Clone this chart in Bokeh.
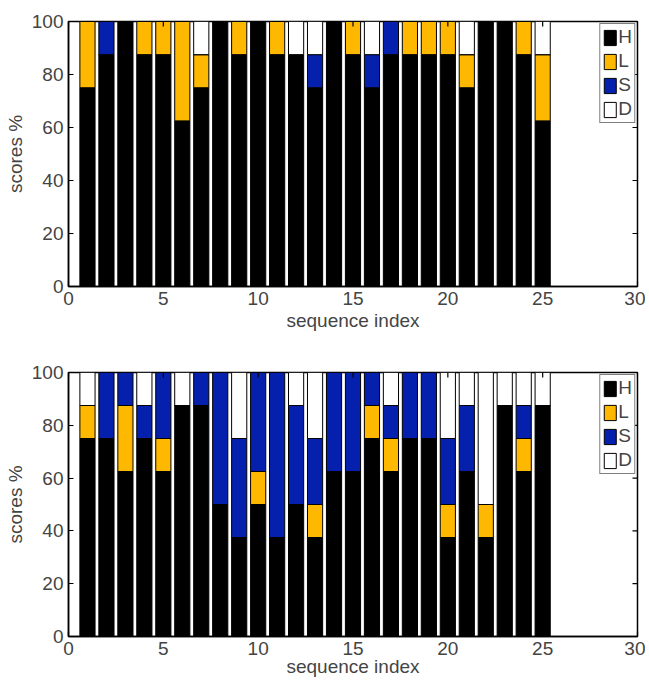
import math
from bokeh.plotting import figure
from bokeh.layouts import column
from bokeh.models import ColumnDataSource, Range1d, FixedTicker
from bokeh.embed import file_html
from bokeh.resources import INLINE

# ---- data (percent scores per sequence) ----
idx = list(range(1, 26))
categories = ["H", "L", "S", "D"]
colors = ["#000000", "#FFB800", "#0620AE", "#FFFFFF"]

top_H = [75, 87.5, 100, 87.5, 87.5, 62.5, 75, 100, 87.5, 100, 87.5, 87.5, 75,
         100, 87.5, 75, 87.5, 87.5, 87.5, 87.5, 75, 100, 100, 87.5, 62.5]
top_L = [25, 0, 0, 12.5, 12.5, 37.5, 12.5, 0, 12.5, 0, 12.5, 0, 0,
         0, 12.5, 0, 0, 12.5, 12.5, 12.5, 12.5, 0, 0, 12.5, 25]
top_S = [0, 12.5, 0, 0, 0, 0, 0, 0, 0, 0, 0, 0, 12.5,
         0, 0, 12.5, 12.5, 0, 0, 0, 0, 0, 0, 0, 0]
top_D = [0, 0, 0, 0, 0, 0, 12.5, 0, 0, 0, 0, 12.5, 12.5,
         0, 0, 12.5, 0, 0, 0, 0, 12.5, 0, 0, 0, 12.5]

bot_H = [75, 75, 62.5, 75, 62.5, 87.5, 87.5, 50, 37.5, 50, 37.5, 50, 37.5,
         62.5, 62.5, 75, 62.5, 75, 75, 37.5, 62.5, 37.5, 87.5, 62.5, 87.5]
bot_L = [12.5, 0, 25, 0, 12.5, 0, 0, 0, 0, 12.5, 0, 0, 12.5,
         0, 0, 12.5, 12.5, 0, 0, 12.5, 0, 12.5, 0, 12.5, 0]
bot_S = [0, 25, 12.5, 12.5, 25, 0, 12.5, 50, 37.5, 37.5, 62.5, 37.5, 25,
         37.5, 37.5, 12.5, 12.5, 25, 25, 25, 25, 0, 0, 12.5, 0]
bot_D = [12.5, 0, 0, 12.5, 0, 12.5, 0, 0, 25, 0, 0, 12.5, 25,
         0, 0, 0, 12.5, 0, 0, 25, 12.5, 50, 12.5, 12.5, 12.5]

x_ticks = [0, 5, 10, 15, 20, 25, 30]
y_ticks = [0, 20, 40, 60, 80, 100]
x_max = 30
y_max = 100

FONT = "Liberation Sans"
FS = "19px"


def style_axis(ax, ticks):
    ax.ticker = FixedTicker(ticks=ticks)
    ax.major_tick_in = 5
    ax.major_tick_out = 0
    ax.minor_tick_line_color = None
    ax.axis_line_width = 1.5
    ax.major_tick_line_width = 1.2
    ax.major_label_text_font = FONT
    ax.major_label_text_font_size = FS
    ax.axis_label_text_font = FONT
    ax.axis_label_text_font_style = "normal"
    ax.axis_label_text_font_size = FS


def make_fig(H, L, S, D, height, border_top, border_bottom, lab_standoff):
    src = ColumnDataSource(dict(x=idx, H=H, L=L, S=S, D=D))
    p = figure(width=645, height=height, output_backend="svg",
               toolbar_location=None,
               x_range=Range1d(0, x_max), y_range=Range1d(0, y_max),
               min_border_left=68, min_border_right=8,
               min_border_top=border_top, min_border_bottom=border_bottom)
    p.vbar_stack(categories, x="x", width=0.8, color=colors, line_color="black",
                 line_width=1, source=src, legend_label=categories)
    # inward ticks on the right and top edges (box on)
    p.scatter(x=[x_max] * len(y_ticks), y=y_ticks, marker="dash", size=10,
              line_color="black", line_width=1.2)
    p.scatter(x=x_ticks, y=[y_max] * len(x_ticks), marker="dash", size=10,
              angle=math.pi / 2, line_color="black", line_width=1.2)
    p.xgrid.grid_line_color = None
    p.ygrid.grid_line_color = None
    p.outline_line_color = "black"
    p.outline_line_width = 1.5
    p.background_fill_color = "white"
    p.border_fill_color = "white"

    style_axis(p.xaxis[0], x_ticks)
    style_axis(p.yaxis[0], y_ticks)
    p.xaxis[0].axis_label = "sequence index"
    p.yaxis[0].axis_label = "scores %"
    p.xaxis[0].major_label_standoff = 5
    p.xaxis[0].axis_label_standoff = lab_standoff
    p.yaxis[0].major_label_standoff = 5
    p.yaxis[0].axis_label_standoff = 3

    lg = p.legend[0]
    lg.location = "top_right"
    lg.margin = 2
    lg.padding = 2
    lg.spacing = 2
    lg.glyph_width = 15
    lg.glyph_height = 19
    lg.label_standoff = 1
    lg.label_width = 0
    lg.label_height = 21
    lg.label_text_font = FONT
    lg.label_text_font_size = FS
    lg.border_line_color = "black"
    lg.border_line_width = 1.5
    lg.background_fill_alpha = 1.0
    return p


p1 = make_fig(top_H, top_L, top_S, top_D, height=337, border_top=21,
              border_bottom=51, lab_standoff=2)
p2 = make_fig(bot_H, bot_L, bot_S, bot_D, height=344, border_top=35,
              border_bottom=45, lab_standoff=-2)

layout = column(p1, p2, spacing=0)
open("out.html", "w").write(file_html(layout, INLINE))
